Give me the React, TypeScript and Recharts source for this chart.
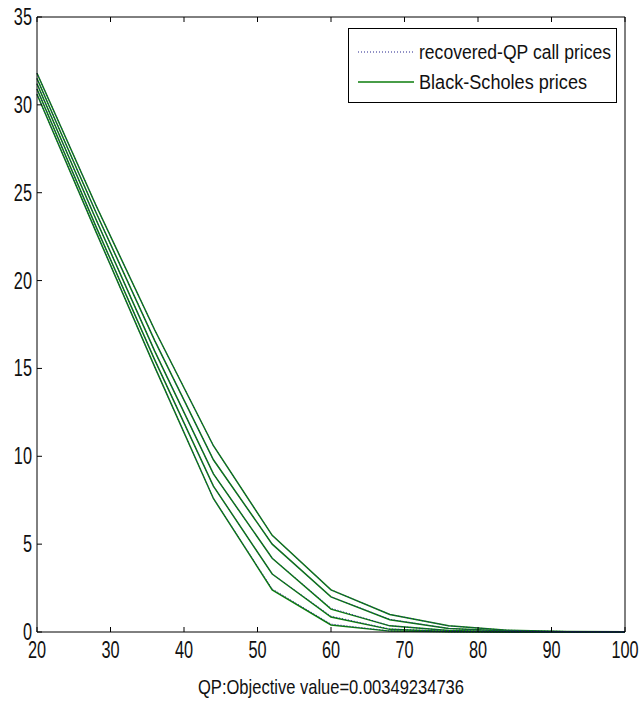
import { Line, LineChart, XAxis, YAxis } from 'recharts';

const strikes = [20, 28, 36, 44, 52, 60, 68, 76, 84, 92, 100];

// Black-Scholes prices, one array per maturity (shortest first)
const bsT1 = [30.6, 22.8, 15.1, 7.6, 2.4, 0.4, 0.05, 0.01, 0, 0, 0];
const bsT2 = [30.9, 23.1, 15.5, 8.3, 3.3, 0.85, 0.15, 0.03, 0.01, 0, 0];
const bsT3 = [31.2, 23.5, 16.0, 9.0, 4.2, 1.3, 0.35, 0.08, 0.02, 0, 0];
const bsT4 = [31.5, 23.9, 16.6, 9.8, 5.0, 2.0, 0.7, 0.2, 0.05, 0.01, 0];
const bsT5 = [31.8, 24.3, 17.2, 10.6, 5.5, 2.4, 1.0, 0.35, 0.1, 0.03, 0.01];

// recovered-QP call prices
const qpT1 = [30.6, 22.8, 15.1, 7.6, 2.45, 0.45, 0.06, 0.01, 0, 0, 0];
const qpT2 = [30.9, 23.1, 15.5, 8.3, 3.3, 0.9, 0.17, 0.03, 0.01, 0, 0];
const qpT3 = [31.2, 23.5, 16.0, 9.0, 4.2, 1.35, 0.36, 0.08, 0.02, 0, 0];
const qpT4 = [31.5, 23.9, 16.6, 9.8, 5.0, 2.0, 0.72, 0.2, 0.05, 0.01, 0];
const qpT5 = [31.8, 24.3, 17.2, 10.6, 5.5, 2.4, 1.0, 0.35, 0.1, 0.03, 0.01];

const xTicks = [20, 30, 40, 50, 60, 70, 80, 90, 100];
const yTicks = [0, 5, 10, 15, 20, 25, 30, 35];
const xLabel = 'QP:Objective value=0.00349234736';
const legendLabels = ['recovered-QP call prices', 'Black-Scholes prices'];

const bsSeries = [bsT1, bsT2, bsT3, bsT4, bsT5];
const qpSeries = [qpT1, qpT2, qpT3, qpT4, qpT5];

const data = strikes.map((k, i) => {
  const row: Record<string, number> = { k };
  bsSeries.forEach((s, j) => (row[`bs${j}`] = s[i]));
  qpSeries.forEach((s, j) => (row[`qp${j}`] = s[i]));
  return row;
});

const FONT = "'Liberation Sans', Arial, sans-serif";
const GREEN = '#0b7d0b';
const BLUE = '#22228c';
const SQUEEZE = 0.68;

function BottomTick({ x, y, payload }: any) {
  return (
    <g>
      <line x1={x} y1={y} x2={x} y2={y - 5} stroke="#000" />
      <text
        transform={`translate(${x} ${y + 26}) scale(${SQUEEZE} 1)`}
        textAnchor="middle"
        fontFamily={FONT}
        fontSize={24}
        fill="#111"
      >
        {payload.value}
      </text>
    </g>
  );
}

function TopTick({ x, y }: any) {
  return <line x1={x} y1={y} x2={x} y2={y + 5} stroke="#000" />;
}

function LeftTick({ x, y, payload }: any) {
  return (
    <g>
      <line x1={x} y1={y} x2={x + 5} y2={y} stroke="#000" />
      <text
        transform={`translate(${x - 5} ${y + 8}) scale(${SQUEEZE} 1)`}
        textAnchor="end"
        fontFamily={FONT}
        fontSize={24}
        fill="#111"
      >
        {payload.value}
      </text>
    </g>
  );
}

function RightTick({ x, y }: any) {
  return <line x1={x} y1={y} x2={x - 5} y2={y} stroke="#000" />;
}

function XLabel({ viewBox }: any) {
  const cx = viewBox.x + viewBox.width / 2;
  return (
    <text
      x={cx}
      y={694}
      textAnchor="middle"
      fontFamily={FONT}
      fontSize={21}
      fill="#111"
      textLength={266}
      lengthAdjust="spacingAndGlyphs"
    >
      {xLabel}
    </text>
  );
}

function LegendBox() {
  return (
    <div
      style={{
        position: 'absolute',
        left: 348,
        top: 28,
        width: 269,
        height: 75,
        border: '1px solid #000',
        background: '#fff',
        boxSizing: 'border-box',
      }}
    >
      <svg width={267} height={73} style={{ display: 'block' }}>
        <line x1={9} y1={23} x2={65} y2={23} stroke={BLUE} strokeDasharray="1 2" />
        <text x={70} y={30} fontFamily={FONT} fontSize={20} fill="#111" textLength={192} lengthAdjust="spacingAndGlyphs">
          {legendLabels[0]}
        </text>
        <line x1={9} y1={53} x2={65} y2={53} stroke={GREEN} strokeWidth={1.5} />
        <text x={70} y={60} fontFamily={FONT} fontSize={20} fill="#111" textLength={168} lengthAdjust="spacingAndGlyphs">
          {legendLabels[1]}
        </text>
      </svg>
    </div>
  );
}

export default function App() {
  return (
    <div style={{ position: 'absolute', left: 0, top: 0, width: 640, height: 702, background: '#fff' }}>
      <LineChart width={640} height={702} data={data} margin={{ top: 10, right: 5, left: 7, bottom: 30 }}>
        <XAxis
          dataKey="k"
          type="number"
          domain={[20, 100]}
          ticks={xTicks}
          height={40}
          tickSize={0}
          tickMargin={0}
          tick={<BottomTick />}
          axisLine={{ stroke: '#000' }}
          label={<XLabel />}
        />
        <XAxis
          xAxisId="top"
          orientation="top"
          dataKey="k"
          type="number"
          domain={[20, 100]}
          ticks={xTicks}
          height={7}
          tickSize={0}
          tickMargin={0}
          tick={<TopTick />}
          axisLine={{ stroke: '#000' }}
        />
        <YAxis
          type="number"
          domain={[0, 35]}
          ticks={yTicks}
          width={30}
          tickSize={0}
          tickMargin={0}
          tick={<LeftTick />}
          axisLine={{ stroke: '#000' }}
        />
        <YAxis
          yAxisId="right"
          orientation="right"
          type="number"
          domain={[0, 35]}
          ticks={yTicks}
          width={10}
          tickSize={0}
          tickMargin={0}
          tick={<RightTick />}
          axisLine={{ stroke: '#000' }}
        />
        {bsSeries.map((_, j) => (
          <Line
            key={`bs${j}`}
            dataKey={`bs${j}`}
            type="linear"
            stroke={GREEN}
            strokeWidth={1.5}
            dot={false}
            isAnimationActive={false}
          />
        ))}
        {qpSeries.map((_, j) => (
          <Line
            key={`qp${j}`}
            dataKey={`qp${j}`}
            type="linear"
            stroke={BLUE}
            strokeWidth={1}
            strokeDasharray="1 2"
            dot={false}
            isAnimationActive={false}
          />
        ))}
      </LineChart>
      <LegendBox />
    </div>
  );
}
